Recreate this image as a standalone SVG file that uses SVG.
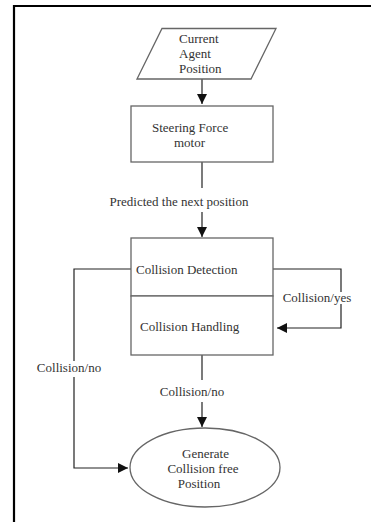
<svg xmlns="http://www.w3.org/2000/svg" width="371" height="522" viewBox="0 0 371 522">
<style>
text{font-family:"Liberation Serif","Times New Roman",serif;font-size:13px;fill:#333}
.node{fill:#fff;stroke:#666;stroke-width:1.3}
.conn{fill:none;stroke:#222;stroke-width:1.2}
.lbl{fill:#fff}
</style>
<defs>
<marker id="ah" viewBox="0 0 10 10" refX="10" refY="5" markerWidth="10" markerHeight="10" markerUnits="userSpaceOnUse" orient="auto">
<path d="M0,0 L10,5 L0,10 Z" fill="#111"/>
</marker>
</defs>
<rect width="371" height="522" fill="#fff"/>
<g id="frame">
<line x1="14" y1="6" x2="371" y2="6" stroke="#000" stroke-width="2.2"/>
<line x1="14" y1="5" x2="14" y2="522" stroke="#000" stroke-width="2.2"/>
</g>
<g id="connectors">
<line class="conn" x1="202" y1="79" x2="202" y2="104" marker-end="url(#ah)"/>
<line class="conn" x1="202" y1="162" x2="202" y2="188" stroke="#666"/>
<line class="conn" x1="202" y1="212" x2="202" y2="237" marker-end="url(#ah)"/>
<polyline class="conn" points="131,269 74,269 74,361"/>
<polyline class="conn" points="74,377 74,468 128,468" marker-end="url(#ah)"/>
<polyline class="conn" points="273,269 341,269 341,292"/>
<polyline class="conn" points="341,304 341,328 277,328" marker-end="url(#ah)"/>
<line class="conn" x1="202" y1="355" x2="202" y2="380" stroke="#666"/>
<line class="conn" x1="202" y1="402" x2="202" y2="427" marker-end="url(#ah)"/>
<text x="179" y="206" text-anchor="middle">Predicted the next position</text>
<text x="69" y="372" text-anchor="middle">Collision/no</text>
<text x="317" y="302" text-anchor="middle">Collision/yes</text>
<text x="192" y="396" text-anchor="middle">Collision/no</text>
</g>
<g id="current-agent-position">
<polygon class="node" points="162,28.5 276,28.5 251,79 137,79" stroke="#444"/>
<text x="179" y="43">Current</text>
<text x="179" y="58">Agent</text>
<text x="179" y="73">Position</text>
</g>
<g id="steering-force-motor">
<rect class="node" x="131" y="106" width="142" height="56"/>
<text x="152" y="132">Steering Force</text>
<text x="174" y="147">motor</text>
</g>
<g id="collision-detection">
<rect class="node" x="131" y="238" width="142" height="58"/>
<text x="136" y="274">Collision Detection</text>
</g>
<g id="collision-handling">
<rect class="node" x="131" y="296" width="142" height="59"/>
<text x="140" y="331">Collision Handling</text>
</g>
<g id="generate-collision-free-position">
<ellipse class="node" cx="205" cy="467.5" rx="75" ry="39.5" stroke="#444"/>
<text x="205.5" y="458" text-anchor="middle">Generate</text>
<text x="203" y="473" text-anchor="middle">Collision free</text>
<text x="199" y="488" text-anchor="middle">Position</text>
</g>
</svg>
